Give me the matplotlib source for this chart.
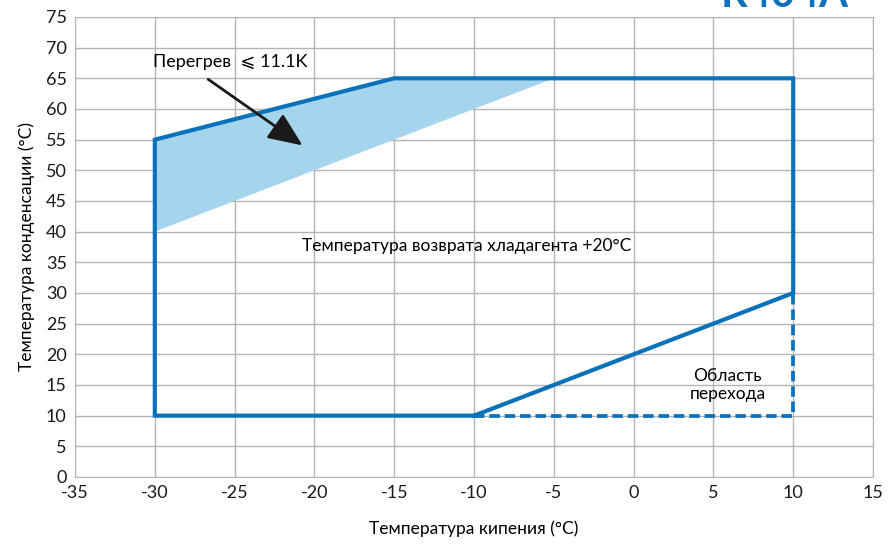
import matplotlib
matplotlib.use("Agg")
import matplotlib.pyplot as plt
from matplotlib.patches import Polygon

plt.rcParams['font.family'] = ['Lato', 'DejaVu Sans']
plt.rcParams['axes.unicode_minus'] = False

# рабочая область (контур)
env_x = [-10, 10, 10, -15, -30, -30, -10]
env_y = [10, 30, 65, 65, 55, 10, 10]
# область перехода (пунктир)
dash_x = [-10, 10, 10]
dash_y = [10, 10, 30]
# перегрев
sh_x = [-30, -15, -5, -30]
sh_y = [55, 65, 65, 40]

xticks = list(range(-35, 16, 5))
yticks = list(range(0, 76, 5))

blue = "#0a72ba"

fig = plt.figure(figsize=(8.89, 5.46), dpi=100)
ax = fig.add_axes([0.0844, 0.1264, 0.8976, 0.8425])

ax.add_patch(Polygon(list(zip(sh_x, sh_y)), closed=True, facecolor="#a5d5ec",
                     edgecolor="none", zorder=2))
ax.plot(env_x, env_y, color=blue, lw=3, zorder=3, solid_joinstyle="miter")
ax.plot(dash_x, dash_y, color=blue, lw=2.7, ls=(0, (2.8, 1.3)), zorder=3)

ax.set_xlim(-35, 15)
ax.set_ylim(0, 75)
ax.set_xticks(xticks)
ax.set_yticks(yticks)
ax.tick_params(length=0, labelsize=13, colors="#1a1a1a", pad=6)
ax.grid(True, color="#b4b4b4", lw=1)
ax.set_axisbelow(True)
for s in ax.spines.values():
    s.set_color("#b4b4b4")

ax.set_xlabel("Температура кипения (°C)", fontsize=12.5, labelpad=14)
ax.set_ylabel("Температура конденсации (°C)", fontsize=12.5, labelpad=8)

ax.annotate("", xy=(-20.6, 53.8), xytext=(-26.8, 65.1),
            arrowprops=dict(arrowstyle="-|>,head_length=2.1,head_width=0.9",
                            color="#1a1a1a", lw=2), zorder=4)
ax.text(-30.1, 67.6, "Перегрев  ⩽ 11.1K", fontsize=13, va="center", ha="left",
        zorder=5)
ax.text(-20.8, 37.7, "Температура возврата хладагента +20°C", fontsize=12.5,
        va="center", ha="left", zorder=5)
ax.text(5.9, 15, "Область\nперехода", fontsize=12.5, va="center", ha="center",
        linespacing=1.1, zorder=5)

# заголовок обрезан сверху, как в оригинале
fig.text(0.955, 1.01, "R404A", color=blue, fontsize=30, fontweight="bold",
         ha="right", va="center")

fig.savefig("out.png", dpi=100)
